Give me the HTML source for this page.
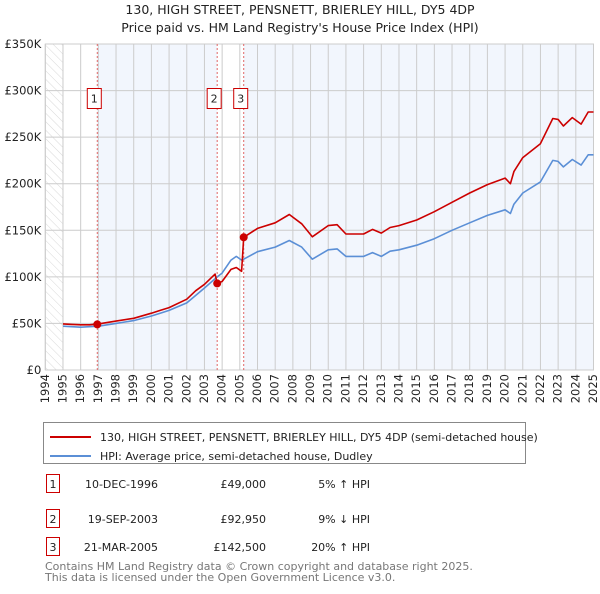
<!DOCTYPE html>
<html><head><meta charset="utf-8"><style>
body{margin:0;background:#fff;font-family:"DejaVu Sans","Liberation Sans",sans-serif;}
svg text{font-family:"DejaVu Sans","Liberation Sans",sans-serif;}
</style></head><body>
<svg id="chart" width="600" height="590" viewBox="0 0 600 590" xmlns="http://www.w3.org/2000/svg">
<defs><pattern id="hatch" width="6" height="6" patternUnits="userSpaceOnUse" patternTransform="rotate(-45)"><line x1="0" y1="0" x2="0" y2="6" stroke="#d8d8d8" stroke-width="1"/></pattern></defs>
<text x="300" y="14" text-anchor="middle" font-size="12.5" fill="#222">130, HIGH STREET, PENSNETT, BRIERLEY HILL, DY5 4DP</text>
<text x="300" y="32" text-anchor="middle" font-size="12.5" fill="#222">Price paid vs. HM Land Registry's House Price Index (HPI)</text>
<g id="plot"></g>
<g>
<rect x="43.5" y="422.5" width="482" height="41" fill="#fff" stroke="#888"/>
<line x1="50" y1="437" x2="91" y2="437" stroke="#cc0000" stroke-width="2"/>
<text x="100" y="441" font-size="11" fill="#222">130, HIGH STREET, PENSNETT, BRIERLEY HILL, DY5 4DP (semi-detached house)</text>
<line x1="50" y1="456" x2="91" y2="456" stroke="#5b8fd6" stroke-width="2"/>
<text x="100" y="460" font-size="11" fill="#222">HPI: Average price, semi-detached house, Dudley</text>
</g>
<g font-size="11" fill="#222">
<rect x="46.5" y="474.5" width="13" height="18" fill="none" stroke="#cc0000"/><text x="53" y="488" text-anchor="middle">1</text>
<text x="158" y="488" text-anchor="end">10-DEC-1996</text><text x="266" y="488" text-anchor="end">£49,000</text><text x="370" y="488" text-anchor="end">5% ↑ HPI</text>
<rect x="46.5" y="509.5" width="13" height="18" fill="none" stroke="#cc0000"/><text x="53" y="523" text-anchor="middle">2</text>
<text x="158" y="523" text-anchor="end">19-SEP-2003</text><text x="266" y="523" text-anchor="end">£92,950</text><text x="370" y="523" text-anchor="end">9% ↓ HPI</text>
<rect x="46.5" y="537.5" width="13" height="18" fill="none" stroke="#cc0000"/><text x="53" y="551" text-anchor="middle">3</text>
<text x="158" y="551" text-anchor="end">21-MAR-2005</text><text x="266" y="551" text-anchor="end">£142,500</text><text x="370" y="551" text-anchor="end">20% ↑ HPI</text>
</g>
<text x="45" y="570" font-size="11" fill="#777">Contains HM Land Registry data © Crown copyright and database right 2025.</text>
<text x="45" y="581" font-size="11" fill="#777">This data is licensed under the Open Government Licence v3.0.</text>
</svg>
<script>
const dates=[1995.0,1995.5,1996.0,1996.5,1997.0,1998.0,1999.0,2000.0,2000.5,2001.0,2002.0,2002.5,2003.0,2003.6,2003.72,2004.0,2004.5,2004.8,2005.1,2005.22,2006.0,2007.0,2007.8,2008.5,2009.1,2010.0,2010.5,2011.0,2012.0,2012.5,2013.0,2013.5,2014.0,2015.0,2016.0,2017.0,2018.0,2019.0,2020.0,2020.3,2020.5,2021.0,2022.0,2022.7,2023.0,2023.3,2023.8,2024.3,2024.7,2025.0];
const hpiValues=[47,46.5,46,46.5,47,50,53,58,61,64,72,80,88,98,100,104,118,122,118,119,127,132,139,132,119,129,130,122,122,126,122,127.5,129,134,141,150,158,166,172,168,178,190,202,225,224,218,226,220,231,231];
const priceValues=[49.5,49,48.5,48.5,49.5,52.5,55.5,61,64,67,76,85,92,103,93,95,108,110,106,142.5,152,158,167,157,143,155,156,146,146,151,147,153,155,161,170,180,190,199,206,200,213,228,243,270,269,262,271,264,277,277];
const saleDates=[1996.94,2003.72,2005.22];
const salePrices=[49,92.95,142.5];
const saleLabels=["1","2","3"];
const yTicks=[0,50,100,150,200,250,300,350];
const yTickLabels=["£0","£50K","£100K","£150K","£200K","£250K","£300K","£350K"];
const xTicks=[1994,1995,1996,1997,1998,1999,2000,2001,2002,2003,2004,2005,2006,2007,2008,2009,2010,2011,2012,2013,2014,2015,2016,2017,2018,2019,2020,2021,2022,2023,2024,2025];

const NS="http://www.w3.org/2000/svg";
const L=45.3,R=593.5,T=44,B=370;
const X=y=>L+(y-1994)/(2025-1994)*(R-L);
const Y=v=>B-v/350*(B-T);
const g=document.getElementById('plot');
function mk(tag,attrs,parent){const e=document.createElementNS(NS,tag);for(const k in attrs)e.setAttribute(k,attrs[k]);(parent||g).appendChild(e);return e;}

let e=mk('rect',{x:L,y:T,width:R-L,height:B-T,fill:'#fff'});


e=mk('rect',{x:L,y:T,width:X(1995)-L,height:B-T,fill:'url(#hatch)'});


e=mk('rect',{x:X(saleDates[0]),y:T,width:X(saleDates[1])-X(saleDates[0]),height:B-T,fill:'#f2f6fd'});


e=mk('rect',{x:X(saleDates[2]),y:T,width:R-X(saleDates[2]),height:B-T,fill:'#f2f6fd'});



xTicks.forEach(t=>{
 const x=X(t);
 e=mk('line',{x1:x,x2:x,y1:T,y2:B,stroke:'#ccc','stroke-width':1});
 
 
 e=mk('text',{x:x,y:B+4,'font-size':11.5,fill:'#222','text-anchor':'end',transform:`rotate(-90 ${x} ${B+4})`,'dominant-baseline':'middle'});
 e.textContent=t;
 
 
});
yTicks.forEach((t,i)=>{
 const y=Y(t);
 e=mk('line',{x1:L,x2:R,y1:y,y2:y,stroke:'#ccc','stroke-width':1});
 
 
 e=mk('text',{x:L-4,y:y+4,'font-size':11.5,fill:'#222','text-anchor':'end'});
 e.textContent=yTickLabels[i];
 
 
});
e=mk('rect',{x:L,y:T,width:R-L,height:B-T,fill:'none',stroke:'#ccc'});



saleDates.forEach((d,i)=>{
 const x=X(d);
 e=mk('line',{x1:x,x2:x,y1:T,y2:B,stroke:'#e06666','stroke-width':1,'stroke-dasharray':'2,2'});
 
 
});

function path(vals,color,name){
 const d=dates.map((t,i)=>(i?'L':'M')+X(t).toFixed(1)+','+Y(vals[i]).toFixed(1)).join('');
 const p=mk('path',{d:d,fill:'none',stroke:color,'stroke-width':1.6,'stroke-linejoin':'round'});
 
 
}
path(hpiValues,'#5b8fd6','hpi-line');
path(priceValues,'#cc0000','price-paid-line');

saleDates.forEach((d,i)=>{
 e=mk('circle',{cx:X(d),cy:Y(salePrices[i]),r:4,fill:'#cc0000'});
 
 
 const lx=X(d)-10;
 e=mk('rect',{x:lx,y:88.5,width:14,height:20,fill:'#fff',stroke:'#cc0000'});
 
 
 e=mk('text',{x:lx+7,y:102.5,'font-size':11,fill:'#222','text-anchor':'middle'});
 e.textContent=saleLabels[i];
 
 
});
</script>
</body></html>
